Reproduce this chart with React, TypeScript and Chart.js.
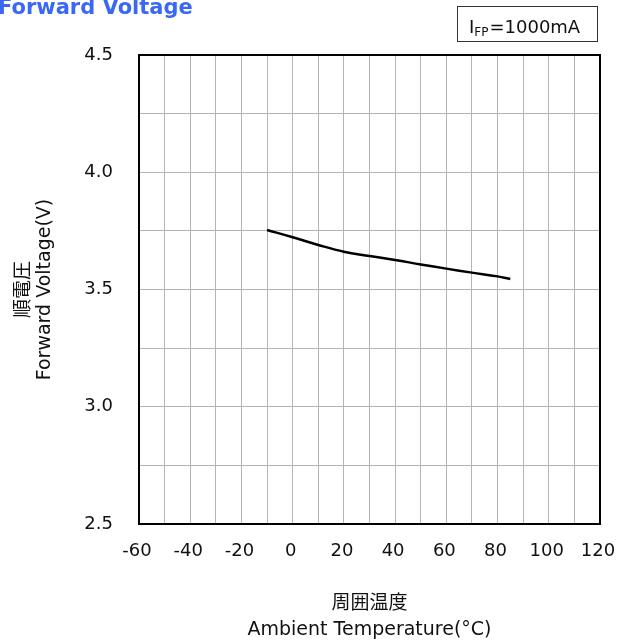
import React, { useEffect, useRef } from "react";
import { Chart, registerables } from "chart.js";

Chart.register(...registerables);

const temperatures = [-10, 0, 10, 20, 30, 40, 50, 60, 70, 80, 85];
const forwardVoltage = [3.754, 3.723, 3.69, 3.661, 3.643, 3.626, 3.607, 3.589, 3.572, 3.556, 3.545];
const xTickLabels = [-60, -40, -20, 0, 20, 40, 60, 80, 100, 120];
const yTickLabels = [2.5, 3.0, 3.5, 4.0, 4.5];

const FONT = "'DejaVu Sans', 'Noto Sans CJK JP', sans-serif";

const framePlugin = {
  id: "frameAndHeader",
  afterDraw(chart: any) {
    const { ctx, chartArea } = chart;
    ctx.save();
    // plot frame
    ctx.strokeStyle = "#000";
    ctx.lineWidth = 2;
    ctx.strokeRect(chartArea.left, chartArea.top, chartArea.right - chartArea.left, chartArea.bottom - chartArea.top);
    // header title
    ctx.fillStyle = "#3a68f5";
    ctx.font = `bold 21px ${FONT}`;
    ctx.textBaseline = "alphabetic";
    ctx.textAlign = "left";
    ctx.fillText("Forward Voltage", -2, 14);
    // condition box
    ctx.strokeStyle = "#333";
    ctx.lineWidth = 1;
    ctx.strokeRect(457.5, 6.5, 140, 35);
    ctx.fillStyle = "#111";
    ctx.font = `18px ${FONT}`;
    let x = 469;
    ctx.fillText("I", x, 33);
    x += ctx.measureText("I").width;
    ctx.font = `12px ${FONT}`;
    ctx.fillText("FP", x, 36);
    x += ctx.measureText("FP").width + 1;
    ctx.font = `18px ${FONT}`;
    ctx.fillText("=1000mA", x, 33);
    ctx.restore();
  },
};

export default function App() {
  const ref = useRef<HTMLCanvasElement | null>(null);
  useEffect(() => {
    if (!ref.current) return;
    const chart = new Chart(ref.current, {
      type: "line",
      data: {
        datasets: [
          {
            data: temperatures.map((t, i) => ({ x: t, y: forwardVoltage[i] })),
            borderColor: "#000",
            borderWidth: 2.5,
            pointRadius: 0,
            tension: 0.4,
            fill: false,
          },
        ],
      },
      options: {
        responsive: false,
        animation: false,
        layout: { padding: { top: 55, right: 30, left: 0, bottom: 0 } },
        plugins: { legend: { display: false }, tooltip: { enabled: false } },
        scales: {
          x: {
            type: "linear",
            min: -60,
            max: 120,
            afterFit: (s: any) => {
              s.height = 119;
              s.paddingLeft = 0;
              s.paddingRight = 0;
            },
            ticks: {
              stepSize: 10,
              autoSkip: false,
              maxRotation: 0,
              padding: 17,
              labelOffset: -2,
              color: "#111",
              font: { family: FONT, size: 18 },
              callback: (v: any) => (xTickLabels.includes(Number(v)) ? String(v) : ""),
            },
            grid: { color: "#b4b4b4", lineWidth: 1, drawTicks: false },
            border: { display: false },
            title: {
              display: true,
              text: ["周囲温度", "Ambient Temperature(°C)"],
              color: "#111",
              font: { family: FONT, size: 19, lineHeight: 26 / 19 },
              padding: { top: 0, bottom: 0 },
            },
          },
          y: {
            type: "linear",
            min: 2.5,
            max: 4.5,
            afterFit: (s: any) => {
              s.width = 139;
              s.paddingTop = 0;
              s.paddingBottom = 0;
            },
            ticks: {
              stepSize: 0.25,
              autoSkip: false,
              padding: 26,
              color: "#111",
              font: { family: FONT, size: 18 },
              callback: (v: any) => {
                const n = Number(v);
                const m = yTickLabels.find((t) => Math.abs(t - n) < 1e-6);
                return m !== undefined ? m.toFixed(1) : "";
              },
            },
            grid: { color: "#b4b4b4", lineWidth: 1, drawTicks: false },
            border: { display: false },
            title: {
              display: true,
              text: ["順電圧", "Forward Voltage(V)"],
              color: "#111",
              font: { family: FONT, size: 19, lineHeight: 21 / 19 },
              padding: { top: 14, bottom: 0 },
            },
          },
        },
      },
      plugins: [framePlugin],
    });
    return () => chart.destroy();
  }, []);
  return (
    <div style={{ position: "absolute", left: 0, top: 0, width: 630, height: 643 }}>
      <canvas ref={ref} width={630} height={643} style={{ width: 630, height: 643 }} />
    </div>
  );
}
